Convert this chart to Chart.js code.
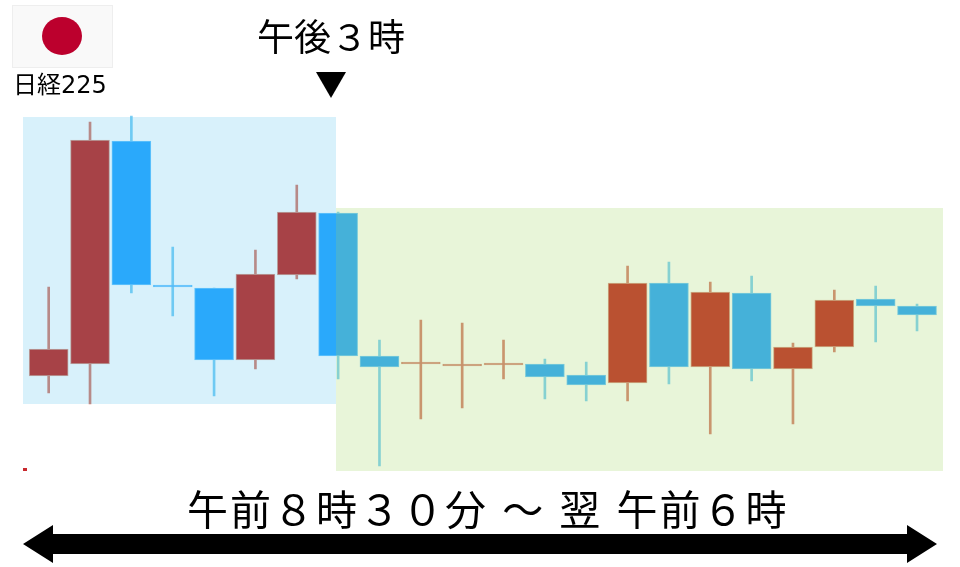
<!DOCTYPE html>
<html lang="ja">
<head>
<meta charset="utf-8">
<script src="https://cdn.jsdelivr.net/npm/chart.js@4"></script>
<style>
  html, body { margin: 0; padding: 0; background: #fff; width: 960px; height: 567px; overflow: hidden; }
  body { position: relative; font-family: "Noto Sans CJK JP", sans-serif; color: #000; }
  canvas { position: absolute; left: 0; top: 0; }
  .txt { position: absolute; white-space: pre; line-height: 1; }
  #flag { position: absolute; left: 12px; top: 5px; width: 99px; height: 61px; background: #f9f9f9; border: 1px solid #eee; }
  #flag div { position: absolute; left: 29px; top: 11px; width: 40px; height: 38px; border-radius: 50%; background: #bc002d; }
  #titulo { left: 257px; top: 17px; font-size: 37px; }
  #seta { left: 315px; top: 66px; font-size: 32px; }
  #nome { left: 13px; top: 71px; font-size: 24px; }
  #nome span { font-family: "DejaVu Sans", sans-serif; }
  #periodo { left: 187px; top: 487px; font-size: 41px; letter-spacing: 2px; word-spacing: 3px; }
</style>
</head>
<body>
<canvas id="grafico" width="960" height="567"></canvas>
<div id="flag"><div></div></div>
<div class="txt" id="nome">日経<span>225</span></div>
<div class="txt" id="titulo">午後３時</div>
<div class="txt" id="seta">▼</div>
<div class="txt" id="periodo">午前８時３０分 ～ 翌 午前６時</div>
<script>
const velas = ['1','2','3','4','5','6','7','8','9','10','11','12','13','14','15','16','17','18','19','20','21','22'];
const abertura = [191,203,426,282,279,207,292,354,211,203,201,202,203,192,184,284,200,274,198,220,268,261];
const fechamento = [218,427,282,280,207,293,355,211,200,205,203,204,190,182,284,200,275,198,220,267,261,252];
const maximo = [280,445,451,320,279,317,382,355,227,247,244,227,208,205,301,305,285,291,224,277,281,263];
const minimo = [174,163,274,251,171,198,288,188,101,148,159,188,168,166,166,183,133,186,143,215,225,236];

const corVela = (i, alta, baixa) => fechamento[i] >= abertura[i] ? alta : baixa;

// faixas de fundo, por cima das velas (sao transparentes)
const faixas = {
  id: 'faixas',
  afterDatasetsDraw(chart) {
    const c = chart.ctx;
    c.save();
    c.fillStyle = 'rgba(60, 185, 235, 0.2)';
    c.fillRect(23, 117, 313, 287);
    c.fillStyle = 'rgba(163, 214, 105, 0.25)';
    c.fillRect(336, 208, 607, 263);
    c.fillStyle = '#c8282d';
    c.fillRect(23, 468, 4, 3);
    // seta dupla
    c.fillStyle = '#000';
    c.beginPath();
    c.moveTo(23, 544);
    c.lineTo(53, 525);
    c.lineTo(53, 534);
    c.lineTo(907, 534);
    c.lineTo(907, 525);
    c.lineTo(937, 544);
    c.lineTo(907, 563);
    c.lineTo(907, 554);
    c.lineTo(53, 554);
    c.lineTo(53, 563);
    c.closePath();
    c.fill();
    c.restore();
  }
};

new Chart(document.getElementById('grafico').getContext('2d'), {
  type: 'bar',
  data: {
    labels: velas,
    datasets: [
      {
        label: 'Corpo',
        data: velas.map((v, i) => [abertura[i], fechamento[i]]),
        backgroundColor: velas.map((v, i) => corVela(i, '#c2251f', '#26a5ff')),
        borderColor: velas.map((v, i) => corVela(i, '#d9a090', '#70c8ff')),
        borderWidth: 1,
        borderSkipped: false,
        barThickness: 39
      },
      {
        label: 'Pavio',
        data: velas.map((v, i) => [minimo[i], maximo[i]]),
        backgroundColor: velas.map((v, i) => corVela(i, '#d67f70', '#7ccff5')),
        barThickness: 2
      }
    ]
  },
  options: {
    responsive: false,
    animation: false,
    layout: { padding: { left: 28, right: 22.3, top: 0, bottom: 0 } },
    plugins: { legend: { display: false }, tooltip: { enabled: false } },
    scales: {
      x: { display: false, grid: { display: false }, stacked: false },
      y: { display: false, min: 0, max: 567 }
    },
    datasets: { bar: { grouped: false } }
  },
  plugins: [faixas]
});
</script>
</body>
</html>
